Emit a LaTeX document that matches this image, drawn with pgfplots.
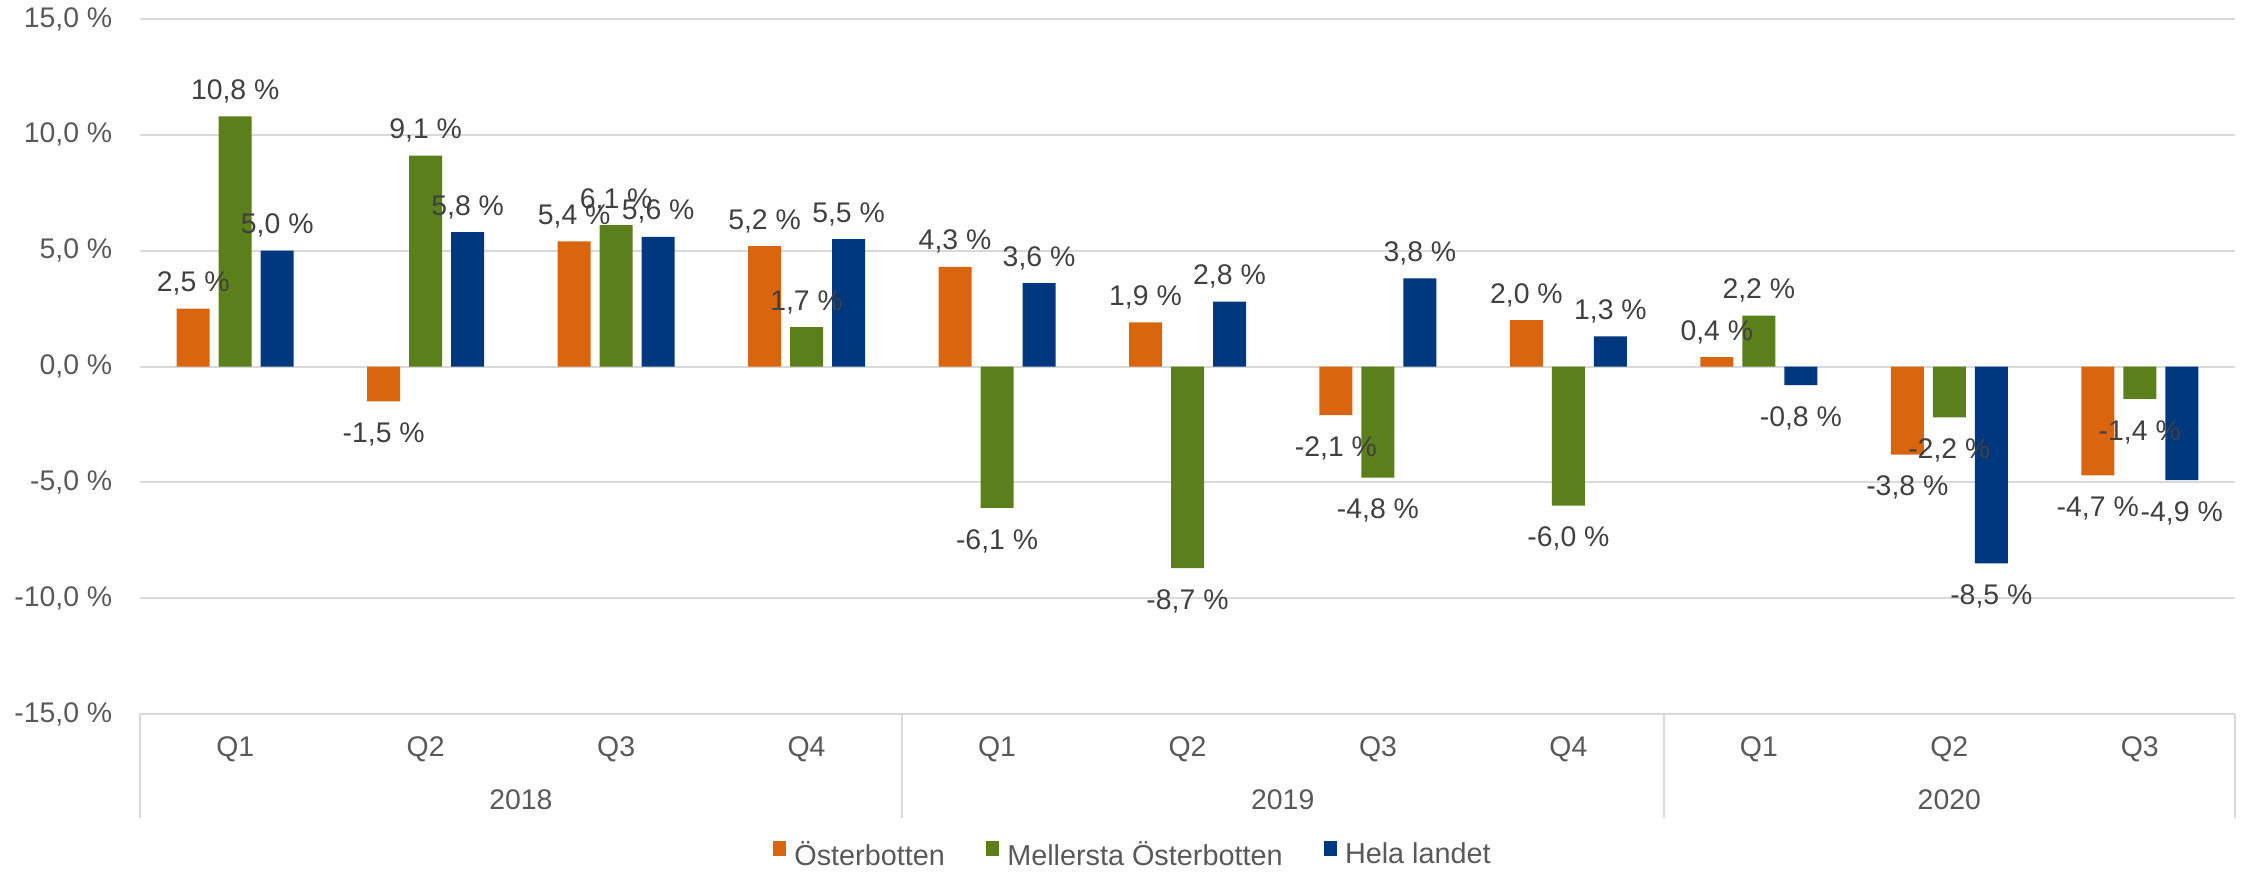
\documentclass[border=0pt]{standalone}
\usepackage{pgfplots}
\pgfplotsset{compat=1.18}
\usepackage{pgfplotstable}
\usepackage{fontspec}
\setmainfont{Liberation Sans}
\definecolor{cOst}{HTML}{D9650E}
\definecolor{cMel}{HTML}{5B7F1A}
\definecolor{cHela}{HTML}{00387F}
\definecolor{cGrid}{HTML}{D9D9D9}
\definecolor{cTick}{HTML}{595959}
\definecolor{cLab}{HTML}{404040}
\pgfplotstableread{
x ost mel hela
0 2.5 10.8 5.0
1 -1.5 9.1 5.8
2 5.4 6.1 5.6
3 5.2 1.7 5.5
4 4.3 -6.1 3.6
5 1.9 -8.7 2.8
6 -2.1 -4.8 3.8
7 2.0 -6.0 1.3
8 0.4 2.2 -0.8
9 -3.8 -2.2 -8.5
10 -4.7 -1.4 -4.9
}\data
\newcommand{\lblfont}{\fontsize{7.1}{8.5}\selectfont}
\begin{document}
\begin{tikzpicture}
\path[use as bounding box] (-35pt,-39.5pt) rectangle (528.25pt,178.5pt);
\begin{axis}[
  at={(0,0)}, anchor=south west, scale only axis,
  width=523.75pt, height=173.75pt,
  xmin=-0.5, xmax=10.5, ymin=-15, ymax=15,
  ytick={-15,-10,...,15},
  xtick={0,...,10},
  xticklabels={Q1,Q2,Q3,Q4,Q1,Q2,Q3,Q4,Q1,Q2,Q3},
  axis line style={draw=none},
  major tick length=0pt,
  ymajorgrids, grid style={cGrid, line width=0.5pt},
  clip=false,
  ybar=2.25pt, bar width=8.25pt,
  font=\lblfont,
  ticklabel style={text=cTick, font=\lblfont},
  yticklabel={\pgfmathprintnumber[fixed,fixed zerofill,precision=1,use comma,assume math mode=true]{\tick}\ \%},
  yticklabel style={anchor=east, inner sep=0pt, xshift=-6.75pt},
  xticklabel style={anchor=center, inner sep=0pt, yshift=-8.75pt},
  visualization depends on={rawy \as \rawy},
  nodes near coords={\pgfmathprintnumber[fixed,fixed zerofill,precision=1,use comma,assume math mode=true]{\pgfplotspointmeta}\ \%},
  every node near coord/.append style={anchor=base, inner sep=0pt, text=cLab, font=\lblfont, yshift={ifthenelse(\rawy>0,4.25,-10.3)*1pt}},
  legend style={at={(0.4754,-0.2043)}, anchor=center, draw=none, fill=none, legend columns=3, font=\fontsize{7.2}{8.6}\selectfont, text=cTick, /tikz/every odd column/.append style={column sep=0pt}, /tikz/every even column/.append style={column sep=8.3pt}},
  legend image code/.code={\fill[#1] (0pt,0pt) rectangle (3.3pt,3.75pt);},
]
\addplot[fill=cOst, draw=none] table[x=x, y=ost] {\data};
\addplot[fill=cMel, draw=none] table[x=x, y=mel] {\data};
\addplot[fill=cHela, draw=none] table[x=x, y=hela] {\data};
\legend{Österbotten, Mellersta Österbotten, Hela landet}
\node[text=cTick, font=\lblfont, yshift=-21.5pt] at (axis cs:1.5,-15) {2018};
\node[text=cTick, font=\lblfont, yshift=-21.5pt] at (axis cs:5.5,-15) {2019};
\node[text=cTick, font=\lblfont, yshift=-21.5pt] at (axis cs:9,-15) {2020};
\draw[cGrid, line width=0.5pt] (axis cs:-0.5,-15) -- ++(0pt,-26pt);
\draw[cGrid, line width=0.5pt] (axis cs:3.5,-15) -- ++(0pt,-26pt);
\draw[cGrid, line width=0.5pt] (axis cs:7.5,-15) -- ++(0pt,-26pt);
\draw[cGrid, line width=0.5pt] (axis cs:10.5,-15) -- ++(0pt,-26pt);
\end{axis}
\end{tikzpicture}
\end{document}
